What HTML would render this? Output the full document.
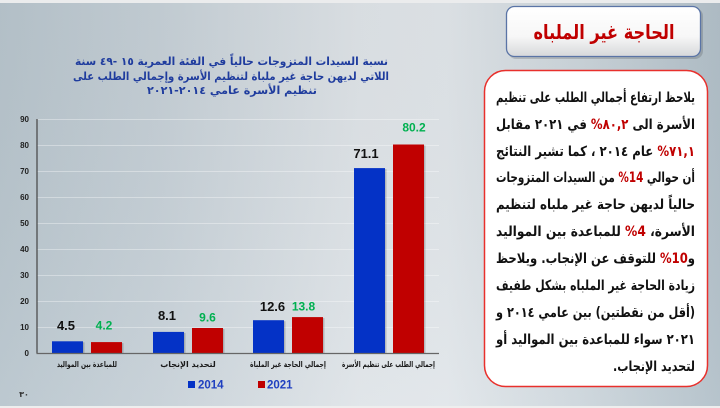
<!DOCTYPE html>
<html>
<head>
<meta charset="utf-8">
<style>
  html,body{margin:0;padding:0;width:720px;height:408px;overflow:hidden;background:#c9d3da;}
  svg{display:block;}
  .ar{font-family:"DejaVu Sans","Liberation Sans",sans-serif;font-weight:bold;}
  .la{font-family:"Liberation Sans","DejaVu Sans",sans-serif;}
</style>
</head>
<body>
<svg width="720" height="408" viewBox="0 0 720 408" xmlns="http://www.w3.org/2000/svg">
  <defs>
    <linearGradient id="bg" x1="0" y1="0" x2="1" y2="0">
      <stop offset="0" stop-color="#b8c5cd"/>
      <stop offset="0.22" stop-color="#c6d0d7"/>
      <stop offset="0.5" stop-color="#dfe4e8"/>
      <stop offset="0.62" stop-color="#e1e6ea"/>
      <stop offset="0.8" stop-color="#cdd6dc"/>
      <stop offset="1" stop-color="#b2c0c9"/>
    </linearGradient>
    <linearGradient id="bgv" x1="0" y1="0" x2="0" y2="1">
      <stop offset="0" stop-color="#000" stop-opacity="0.03"/>
      <stop offset="1" stop-color="#fff" stop-opacity="0.06"/>
    </linearGradient>
    <linearGradient id="tb" x1="0" y1="0" x2="0" y2="1">
      <stop offset="0" stop-color="#ffffff"/>
      <stop offset="0.6" stop-color="#f7f7f7"/>
      <stop offset="1" stop-color="#d6d8da"/>
    </linearGradient>
  </defs>

  <!-- background -->
  <rect x="0" y="0" width="720" height="408" fill="url(#bg)"/>
  <rect x="0" y="0" width="720" height="408" fill="url(#bgv)"/>
  <rect x="0" y="0" width="720" height="3" fill="#ebeced"/>
  <rect x="0" y="406" width="720" height="2" fill="#eeeeee"/>

  <!-- title box -->
  <rect x="508" y="8" width="195" height="51" rx="8" ry="8" fill="#000" opacity="0.15"/>
  <rect x="506.5" y="6.5" width="194" height="50" rx="8" ry="8" fill="url(#tb)" stroke="#5a74a6" stroke-width="1.3"/>
  <text class="ar" direction="rtl" x="604" y="39" font-size="20" fill="#c00000" text-anchor="middle" textLength="141" lengthAdjust="spacingAndGlyphs">الحاجة غير الملباه</text>

  <!-- text box -->
  <rect x="484.5" y="70.5" width="223" height="316" rx="21" ry="21" fill="#ffffff" stroke="#e8302c" stroke-width="1.5"/>

  <g class="ar" font-size="14" fill="#111" text-anchor="middle" direction="rtl">
    <text direction="rtl" x="595.5" y="102" textLength="199" lengthAdjust="spacingAndGlyphs">يلاحظ ارتفاع أجمالي الطلب على تنظيم</text>
    <text direction="rtl" x="595.5" y="129" textLength="199" lengthAdjust="spacingAndGlyphs">الأسرة الى <tspan fill="#c00000">٨٠,٢%</tspan> في ٢٠٢١ مقابل</text>
    <text direction="rtl" x="595.5" y="156" textLength="199" lengthAdjust="spacingAndGlyphs"><tspan fill="#c00000">٧١,١%</tspan> عام ٢٠١٤ ، كما تشير النتائج</text>
    <text direction="rtl" x="595.5" y="182" textLength="199" lengthAdjust="spacingAndGlyphs">أن حوالي <tspan fill="#c00000">14%</tspan> من السيدات المتزوجات</text>
    <text direction="rtl" x="595.5" y="209" textLength="199" lengthAdjust="spacingAndGlyphs">حالياً لديهن حاجة غير ملباه لتنظيم</text>
    <text direction="rtl" x="595.5" y="236" textLength="199" lengthAdjust="spacingAndGlyphs">الأسرة، <tspan fill="#c00000">4%</tspan> للمباعدة بين المواليد</text>
    <text direction="rtl" x="595.5" y="263" textLength="199" lengthAdjust="spacingAndGlyphs">و<tspan fill="#c00000">10%</tspan> للتوقف عن الإنجاب. ويلاحظ</text>
    <text direction="rtl" x="595.5" y="290" textLength="199" lengthAdjust="spacingAndGlyphs">زيادة الحاجة غير الملباه بشكل طفيف</text>
    <text direction="rtl" x="595.5" y="317" textLength="199" lengthAdjust="spacingAndGlyphs">(أقل من نقطتين) بين عامي ٢٠١٤ و</text>
    <text direction="rtl" x="595.5" y="344" textLength="199" lengthAdjust="spacingAndGlyphs">٢٠٢١ سواء للمباعدة بين المواليد أو</text>
    <text direction="rtl" x="654" y="371" textLength="82" lengthAdjust="spacingAndGlyphs">لتحديد الإنجاب.</text>
  </g>

  <!-- chart title -->
  <g class="ar" font-size="11" fill="#1f3c9e" text-anchor="middle" direction="rtl">
    <text direction="rtl" x="231.5" y="65" textLength="313" lengthAdjust="spacingAndGlyphs">نسبة السيدات المتزوجات حالياً في الفئة العمرية ١٥ -٤٩ سنة</text>
    <text direction="rtl" x="231" y="80" textLength="316" lengthAdjust="spacingAndGlyphs">اللاتي لديهن حاجة غير ملباة لتنظيم الأسرة وإجمالي الطلب على</text>
    <text direction="rtl" x="232" y="94" textLength="170" lengthAdjust="spacingAndGlyphs">تنظيم الأسرة عامي ٢٠١٤-٢٠٢١</text>
  </g>

  <!-- gridlines -->
  <g stroke="#ffffff" stroke-opacity="0.35" stroke-width="1">
    <line x1="37" y1="119.5" x2="439" y2="119.5"/>
    <line x1="37" y1="145.5" x2="439" y2="145.5"/>
    <line x1="37" y1="171.5" x2="439" y2="171.5"/>
    <line x1="37" y1="197.5" x2="439" y2="197.5"/>
    <line x1="37" y1="223.5" x2="439" y2="223.5"/>
    <line x1="37" y1="249.5" x2="439" y2="249.5"/>
    <line x1="37" y1="275.5" x2="439" y2="275.5"/>
    <line x1="37" y1="301.5" x2="439" y2="301.5"/>
    <line x1="37" y1="327.5" x2="439" y2="327.5"/>
  </g>

  <!-- y tick labels -->
  <g class="la" font-size="8" fill="#222" text-anchor="end" font-weight="bold">
    <text x="29" y="122">90</text>
    <text x="29" y="148">80</text>
    <text x="29" y="174">70</text>
    <text x="29" y="200">60</text>
    <text x="29" y="226">50</text>
    <text x="29" y="252">40</text>
    <text x="29" y="278">30</text>
    <text x="29" y="304">20</text>
    <text x="29" y="330">10</text>
    <text x="29" y="356">0</text>
  </g>

  <!-- bar shadows -->
  <g fill="#000" opacity="0.18">
    <rect x="53.5" y="342.3" width="31" height="11.7"/>
    <rect x="92.5" y="343.1" width="31" height="10.9"/>
    <rect x="154.5" y="332.9" width="31" height="21.1"/>
    <rect x="193.5" y="329" width="31" height="25"/>
    <rect x="254.5" y="321.2" width="31" height="32.8"/>
    <rect x="293.5" y="318.1" width="31" height="35.9"/>
    <rect x="355.5" y="169.1" width="31" height="184.9"/>
    <rect x="394.5" y="145.5" width="31" height="208.5"/>
  </g>
  <!-- bars -->
  <g fill="#0432c6">
    <rect x="52" y="341.3" width="31" height="11.7"/>
    <rect x="153" y="331.9" width="31" height="21.1"/>
    <rect x="253" y="320.2" width="31" height="32.8"/>
    <rect x="354" y="168.1" width="31" height="184.9"/>
  </g>
  <g fill="#c00000">
    <rect x="91" y="342.1" width="31" height="10.9"/>
    <rect x="192" y="328" width="31" height="25"/>
    <rect x="292" y="317.1" width="31" height="35.9"/>
    <rect x="393" y="144.5" width="31" height="208.5"/>
  </g>

  <!-- axes -->
  <line x1="37" y1="119" x2="37" y2="353.5" stroke="#444" stroke-width="1.2"/>
  <line x1="36.5" y1="353.5" x2="439" y2="353.5" stroke="#666" stroke-width="1.2"/>

  <!-- value labels -->
  <g class="la" font-weight="bold" text-anchor="middle">
    <g font-size="13" fill="#111">
      <text x="66" y="330">4.5</text>
      <text x="167" y="320">8.1</text>
      <text x="272.5" y="311">12.6</text>
      <text x="366" y="158">71.1</text>
    </g>
    <g font-size="12" fill="#00b050">
      <text x="104" y="329.5">4.2</text>
      <text x="207.5" y="321.5">9.6</text>
      <text x="303.5" y="310.5">13.8</text>
      <text x="414" y="131.5">80.2</text>
    </g>
  </g>

  <!-- category labels -->
  <g class="ar" font-size="8" fill="#1a1a1a" text-anchor="middle" direction="rtl">
    <text direction="rtl" x="87" y="367" textLength="60" lengthAdjust="spacingAndGlyphs">للمباعدة بين المواليد</text>
    <text direction="rtl" x="188" y="367">لتحديد الإنجاب</text>
    <text direction="rtl" x="288" y="367" textLength="76" lengthAdjust="spacingAndGlyphs">إجمالي الحاجة غير الملباة</text>
    <text direction="rtl" x="388.5" y="367" textLength="93" lengthAdjust="spacingAndGlyphs">إجمالي الطلب على تنظيم الأسرة</text>
  </g>

  <!-- legend -->
  <rect x="188" y="381" width="7" height="7" fill="#0432c6"/>
  <text class="la" x="198" y="388.5" font-size="11.5" font-weight="bold" fill="#1f3fc0">2014</text>
  <rect x="258" y="381" width="7" height="7" fill="#c00000"/>
  <text class="la" x="267" y="388.5" font-size="11.5" font-weight="bold" fill="#1f3fc0">2021</text>

  <!-- page number -->
  <text class="ar" direction="rtl" x="24" y="397" font-size="8" fill="#333" text-anchor="middle">٣٠</text>
</svg>
</body>
</html>
